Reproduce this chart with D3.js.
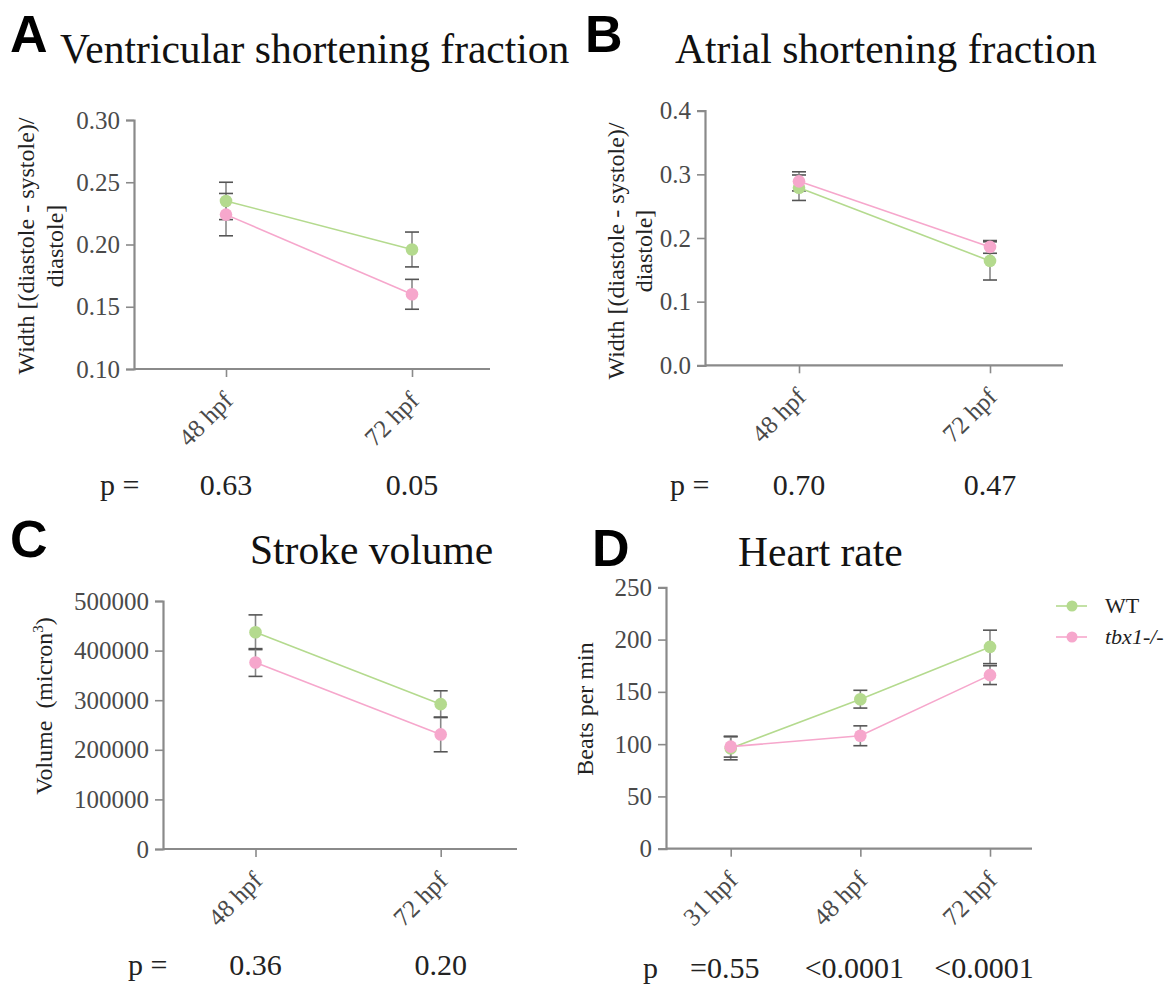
<!DOCTYPE html>
<html>
<head>
<meta charset="utf-8">
<script src="https://cdn.jsdelivr.net/npm/d3@7"></script>
<style>
  body { margin: 0; background: #fff; }
  svg { display: block; }
  svg text { font-family: 'Liberation Serif', 'Times New Roman', serif; }
</style>
</head>
<body>
<div id="chart"></div>
<script>
// values
var ageCats = ["48 hpf", "72 hpf"];
var hrCats = ["31 hpf", "48 hpf", "72 hpf"];

var vsfWT = [0.235, 0.196], vsfWTErr = [0.015, 0.014];
var vsfMut = [0.224, 0.160], vsfMutErr = [0.017, 0.012];

var asfWT = [0.279, 0.164], asfWTErr = [0.020, 0.030];
var asfMut = [0.289, 0.186], asfMutErr = [0.015, 0.010];

var svWT = [437000, 292000], svWTErr = [35000, 27000];
var svMut = [376000, 231000], svMutErr = [28000, 35000];

var hrWT = [96, 143, 193], hrWTErr = [11, 8.5, 16];
var hrMut = [97.6, 108, 166], hrMutErr = [10, 9.5, 9];

var pA = ["0.63", "0.05"];
var pB = ["0.70", "0.47"];
var pC = ["0.36", "0.20"];
var pD = ["=0.55", "<0.0001", "<0.0001"];

var seriesNames = ["WT", "tbx1-/-"];
var green = "#b4da8e", pink = "#f6a7cc";
var serif = "'Liberation Serif', 'Times New Roman', serif";
var sans = "'Liberation Sans', Arial, sans-serif";

var svg = d3.select("#chart").append("svg")
  .attr("width", 1174).attr("height", 985);

function panel(o) {
  var g = svg.append("g");
  var y = d3.scaleLinear().domain(o.yDomain).range([o.yBottom, o.yTop]);
  var x = d3.scalePoint().domain(o.cats).range(o.xPts);

  // letter + title
  g.append("text").attr("x", o.letterX).attr("y", o.letterY)
    .style("font-family", sans).style("font-weight", "bold").style("font-size", "52px")
    .text(o.letter);
  g.append("text").attr("x", o.titleX).attr("y", o.titleY)
    .style("font-family", serif).style("font-size", "41.5px").attr("fill", "#111")
    .text(o.title);

  // y axis
  var ya = g.append("g").attr("transform", "translate(" + o.x0 + ",0)")
    .call(d3.axisLeft(y).tickValues(o.ticks).tickFormat(d3.format(o.fmt)).tickSize(8).tickPadding(6));
  // x axis
  var xa = g.append("g").attr("transform", "translate(0," + o.yBottom + ")")
    .call(d3.axisBottom(x).tickSize(8).tickSizeOuter(0));
  xa.select(".domain").attr("d", "M" + o.x0 + ",0H" + o.x1);
  [ya, xa].forEach(function (a) {
    a.attr("font-family", serif);
    a.select(".domain").attr("stroke", "#8a8a8a").attr("stroke-width", 2.2);
    a.selectAll(".tick line").attr("stroke", "#8a8a8a").attr("stroke-width", 1.6);
    a.selectAll("text").style("font-family", serif).style("font-size", "25px").attr("fill", "#4a4a4a");
  });
  xa.selectAll(".tick text")
    .attr("text-anchor", "end")
    .attr("dy", null).attr("y", 0).attr("x", 0)
    .attr("transform", "translate(8,33) rotate(-45)");

  // y label
  o.ylabel.forEach(function (line, i) {
    g.append("text")
      .attr("transform", "translate(" + o.ylabX[i] + "," + o.ylabY + ") rotate(-90)")
      .attr("text-anchor", "middle")
      .style("font-family", serif).style("font-size", "24px").attr("fill", "#222")
      .html(line);
  });

  var series = [
    { vals: o.wt, err: o.wtErr, color: green },
    { vals: o.mut, err: o.mutErr, color: pink }
  ];

  // error bars
  series.forEach(function (s) {
    var eb = g.append("g");
    o.cats.forEach(function (c, i) {
      var cx = x(c), hi = y(s.vals[i] + s.err[i]), lo = y(s.vals[i] - s.err[i]);
      eb.append("line").attr("x1", cx).attr("x2", cx).attr("y1", hi).attr("y2", lo)
        .attr("stroke", "#888").attr("stroke-width", 1.6);
      [hi, lo].forEach(function (yy) {
        eb.append("line").attr("x1", cx - 7).attr("x2", cx + 7).attr("y1", yy).attr("y2", yy)
          .attr("stroke", "#555").attr("stroke-width", 1.6);
      });
    });
  });

  // lines + markers
  series.forEach(function (s) {
    var line = d3.line().x(function (d, i) { return x(o.cats[i]); }).y(function (d) { return y(d); });
    g.append("path").datum(s.vals).attr("d", line)
      .attr("fill", "none").attr("stroke", s.color).attr("stroke-width", 1.6);
  });
  series.forEach(function (s) {
    g.selectAll(null).data(s.vals).enter().append("circle")
      .attr("cx", function (d, i) { return x(o.cats[i]); })
      .attr("cy", function (d) { return y(d); })
      .attr("r", 6.3).attr("fill", s.color);
  });

  // p values
  g.append("text").attr("x", o.pX).attr("y", o.pY)
    .style("font-family", serif).style("font-size", "30px").attr("fill", "#222")
    .text(o.pLabel);
  g.selectAll(null).data(o.p).enter().append("text")
    .attr("x", function (d, i) { return x(o.cats[i]) + o.pDx; })
    .attr("y", o.pY).attr("text-anchor", "middle")
    .style("font-family", serif).style("font-size", "30px").attr("fill", "#222")
    .text(function (d) { return d; });
}

panel({
  letter: "A", letterX: 10, letterY: 52, title: "Ventricular shortening fraction", titleX: 60, titleY: 63,
  cats: ageCats, xPts: [226, 412], x0: 134, x1: 490, yTop: 120, yBottom: 369,
  yDomain: [0.10, 0.30], ticks: [0.10, 0.15, 0.20, 0.25, 0.30], fmt: ".2f",
  ylabel: ["Width [(diastole - systole)/", "diastole]"], ylabX: [34, 63], ylabY: 246,
  wt: vsfWT, wtErr: vsfWTErr, mut: vsfMut, mutErr: vsfMutErr,
  p: pA, pLabel: "p =", pX: 100, pY: 495, pDx: 0
});

panel({
  letter: "B", letterX: 585, letterY: 52, title: "Atrial shortening fraction", titleX: 675, titleY: 63,
  cats: ageCats, xPts: [799, 990], x0: 705, x1: 1063, yTop: 110.7, yBottom: 365.3,
  yDomain: [0, 0.4], ticks: [0, 0.1, 0.2, 0.3, 0.4], fmt: ".1f",
  ylabel: ["Width [(diastole - systole)/", "diastole]"], ylabX: [624, 652], ylabY: 251,
  wt: asfWT, wtErr: asfWTErr, mut: asfMut, mutErr: asfMutErr,
  p: pB, pLabel: "p =", pX: 670, pY: 495, pDx: 0
});

panel({
  letter: "C", letterX: 10, letterY: 557, title: "Stroke volume", titleX: 250, titleY: 564,
  cats: ageCats, xPts: [255.5, 440.7], x0: 163, x1: 517, yTop: 601, yBottom: 849,
  yDomain: [0, 500000], ticks: [0, 100000, 200000, 300000, 400000, 500000], fmt: "d",
  ylabel: ["Volume&#160;&#160;(micron<tspan dy='-9' font-size='15px'>3</tspan><tspan dy='9'>)</tspan>"], ylabX: [52], ylabY: 706,
  wt: svWT, wtErr: svWTErr, mut: svMut, mutErr: svMutErr,
  p: pC, pLabel: "p =", pX: 128, pY: 975, pDx: 0
});

panel({
  letter: "D", letterX: 592, letterY: 566, title: "Heart rate", titleX: 738, titleY: 566,
  cats: hrCats, xPts: [730.7, 990], x0: 666, x1: 1032, yTop: 587.3, yBottom: 848.7,
  yDomain: [0, 250], ticks: [0, 50, 100, 150, 200, 250], fmt: "d",
  ylabel: ["Beats per min"], ylabX: [593], ylabY: 709,
  wt: hrWT, wtErr: hrWTErr, mut: hrMut, mutErr: hrMutErr,
  p: pD, pLabel: "p", pX: 643, pY: 978, pDx: -6
});

// legend
var leg = svg.append("g");
[green, pink].forEach(function (c, i) {
  var yy = 606 + i * 31;
  leg.append("line").attr("x1", 1056).attr("x2", 1087).attr("y1", yy).attr("y2", yy)
    .attr("stroke", c).attr("stroke-width", 1.6);
  leg.append("circle").attr("cx", 1072).attr("cy", yy).attr("r", 5.5).attr("fill", c);
  leg.append("text").attr("x", 1105).attr("y", yy + 7)
    .style("font-family", serif).style("font-size", "22px").attr("fill", "#222")
    .style("font-style", i === 1 ? "italic" : "normal")
    .text(seriesNames[i]);
});
</script>
</body>
</html>
